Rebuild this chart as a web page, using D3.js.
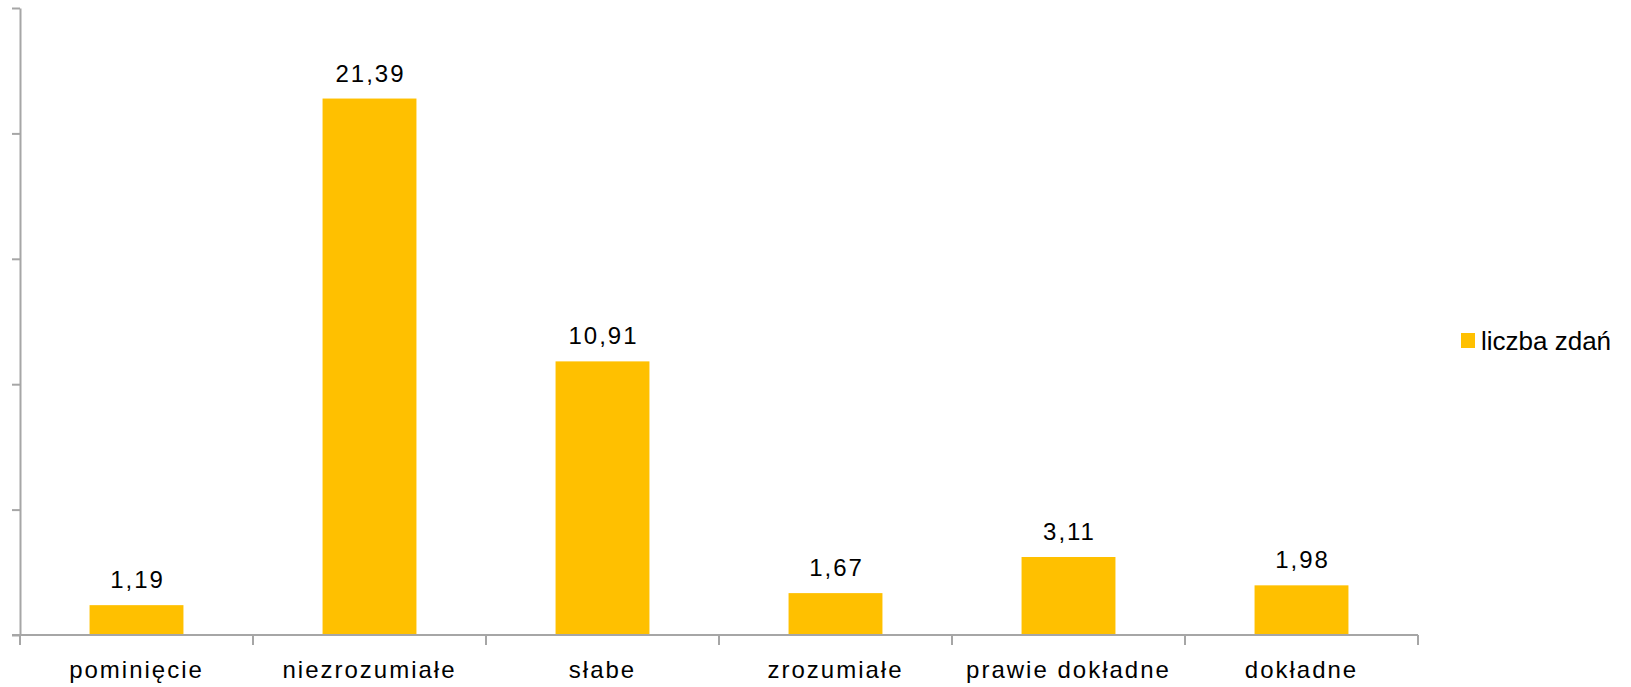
<!DOCTYPE html>
<html>
<head>
<meta charset="utf-8">
<script src="https://cdn.jsdelivr.net/npm/d3@7"></script>
<style>
  body { margin: 0; background: #fff; }
  svg text { font-family: "Liberation Sans", Arial, sans-serif; fill: #000; }
</style>
</head>
<body>
<div id="container"><svg></svg></div>
<script>
let width = 1631;
let height = 687;
let categories = ['pominięcie', 'niezrozumiałe', 'słabe', 'zrozumiałe', 'prawie dokładne', 'dokładne'];
let values = [1.19, 21.39, 10.91, 1.67, 3.11, 1.98];
let valueLabels = ['1,19', '21,39', '10,91', '1,67', '3,11', '1,98'];
let yTicks = [0, 5, 10, 15, 20, 25];
let seriesName = 'liczba zdań';

let barColor = '#FFC000';
let axisColor = '#a6a6a6';
let plot = {'left': 20, 'right': 1418, 'top': 8, 'bottom': 635};

let svg, xScale, yScale;

function draw() {
    svg = d3.select('#container').select('svg')
        .attr('width', width)
        .attr('height', height);

    xScale = d3.scaleBand()
        .domain(categories)
        .range([plot.left, plot.right])
        .padding(0);
    yScale = d3.scaleLinear()
        .domain([0, 25])
        .range([plot.bottom, plot.top]);

    let barW = xScale.bandwidth() * 0.403;

    // y axis, ticks only, no labels
    let yAxis = svg.append('g')
        .attr('transform', `translate(${plot.left},0)`)
        .call(d3.axisLeft(yScale).tickValues(yTicks).tickFormat('').tickSize(8).tickSizeOuter(0));
    yAxis.select('.domain').attr('stroke', axisColor).attr('stroke-width', 2);
    yAxis.selectAll('.tick line').attr('stroke', axisColor).attr('stroke-width', 2);

    // bars
    svg.append('g')
        .selectAll('rect')
        .data(values)
        .join('rect')
        .attr('x', (d, i) => xScale(categories[i]) + (xScale.bandwidth() - barW) / 2)
        .attr('y', d => yScale(d))
        .attr('width', barW)
        .attr('height', d => yScale(0) - yScale(d))
        .attr('fill', barColor);

    // x axis line and ticks between categories
    let xg = svg.append('g');
    xg.append('line')
        .attr('x1', plot.left - 8).attr('x2', plot.right)
        .attr('y1', yScale(0)).attr('y2', yScale(0))
        .attr('stroke', axisColor).attr('stroke-width', 2);
    let boundaries = categories.map(c => xScale(c)).concat([xScale.range()[1]]);
    xg.selectAll('line.tick')
        .data(boundaries)
        .join('line')
        .attr('class', 'tick')
        .attr('x1', d => d).attr('x2', d => d)
        .attr('y1', yScale(0)).attr('y2', yScale(0) + 10)
        .attr('stroke', axisColor).attr('stroke-width', 2);

    // category labels
    xg.selectAll('text')
        .data(categories)
        .join('text')
        .attr('x', d => xScale(d) + xScale.bandwidth() / 2)
        .attr('y', yScale(0) + 43)
        .attr('text-anchor', 'middle')
        .style('font-size', '24px')
        .style('letter-spacing', '2px')
        .text(d => d);

    // value labels
    svg.append('g')
        .selectAll('text')
        .data(values)
        .join('text')
        .attr('x', (d, i) => xScale(categories[i]) + xScale.bandwidth() / 2 + 1)
        .attr('y', d => yScale(d) - 17)
        .attr('text-anchor', 'middle')
        .style('font-size', '24px')
        .style('letter-spacing', '2px')
        .text((d, i) => valueLabels[i]);

    // legend
    let legend = svg.append('g').attr('transform', 'translate(1461,333)');
    legend.append('rect')
        .attr('width', 14).attr('height', 15)
        .attr('fill', barColor);
    legend.append('text')
        .attr('x', 20).attr('y', 17)
        .style('font-size', '26px')
        .text(seriesName);
}

draw();
</script>
</body>
</html>
